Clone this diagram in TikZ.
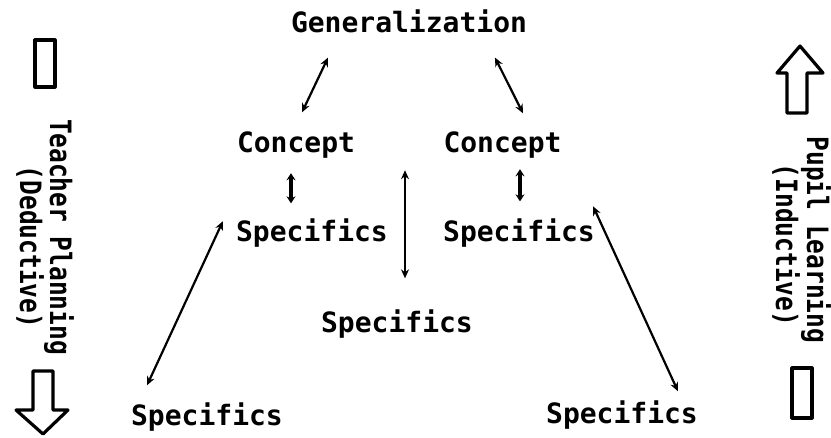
\documentclass[tikz,border=0pt]{standalone}
\usepackage{fontspec}
\usepackage{graphicx}
\setmonofont{DejaVu Sans Mono}
\usetikzlibrary{arrows.meta,calc}
\newcommand\sidetxt[1]{\scalebox{1}[1.2]{#1}}
\begin{document}
\begin{tikzpicture}[x=1pt,y=-1pt,
  lbl/.style={inner sep=0pt, anchor=base, font=\ttfamily\bfseries\fontsize{28}{30}\selectfont},
  side/.style={inner sep=0pt, anchor=base, rotate=-90, font=\ttfamily\bfseries\fontsize{24.5}{26}\selectfont},
  link/.style={{Stealth[length=9pt,width=8pt]}-{Stealth[length=9pt,width=8pt]}, line width=2.2pt},
  stub/.style={{Stealth[length=7pt,width=9pt]}-{Stealth[length=7pt,width=9pt]}, line width=3.2pt},
  block/.style={line width=3.2pt, line join=round}]
\path[use as bounding box] (0,0) rectangle (831,437);

% hierarchy labels
\node[lbl] (gen) at (409,32) {Generalization};
\node[lbl] (cl)  at (296,152) {Concept};
\node[lbl] (cr)  at (502.5,152) {Concept};
\node[lbl] (sml) at (312,241) {Specifics};
\node[lbl] (smr) at (519,241) {Specifics};
\node[lbl] (sc)  at (397,332) {Specifics};
\node[lbl] (sbl) at (207,425) {Specifics};
\node[lbl] (sbr) at (622,423) {Specifics};

% two-way links
\draw[link] ([shift={(-81,25)}]gen.south) -- ([shift={(6,-18.7)}]cl.north);
\draw[link] ([shift={(86,25)}]gen.south) -- ([shift={(20.5,-17.7)}]cr.north);
\draw[stub] ([shift={(-5,15.2)}]cl.south) -- ([shift={(-21,-14.7)}]sml.north);
\draw[stub] ([shift={(17.5,11.2)}]cr.south) -- ([shift={(1,-16.7)}]smr.north);
\coordinate (mid) at ($(cl.south)!0.5!(cr.south)$);
\draw[link] ([shift={(5.75,12.2)}]mid) -- ([shift={(8,-30.7)}]sc.north);
\draw[link] ([shift={(-13.1,-11.3)}]sml.west) -- ([shift={(-60,-16.7)}]sbl.north);
\draw[link] ([shift={(-1.9,-11.7)}]smr.north east) -- ([shift={(56,-8.7)}]sbr.north);

% left margin: teacher planning, downward
\draw[block] (35,40) rectangle (55,87);
\node[side] (tp) at (50,237) {\sidetxt{Teacher Planning}};
\node[side] (dd) at (20,247) {\sidetxt{(Deductive)}};
\draw[block] (33,371) -- (53,371) -- (53,410) -- (68,410) -- (43,434) -- (16,410) -- (33,410) -- cycle;

% right margin: pupil learning, upward
\draw[block] (787,113) -- (807,113) -- (807,73) -- (823,73) -- (800,46) -- (777,73) -- (787,73) -- cycle;
\node[side] (pl) at (807,240) {\sidetxt{Pupil Learning}};
\node[side] (id) at (776,245) {\sidetxt{(Inductive)}};
\draw[block] (792,368) rectangle (812,418);
\end{tikzpicture}
\end{document}
